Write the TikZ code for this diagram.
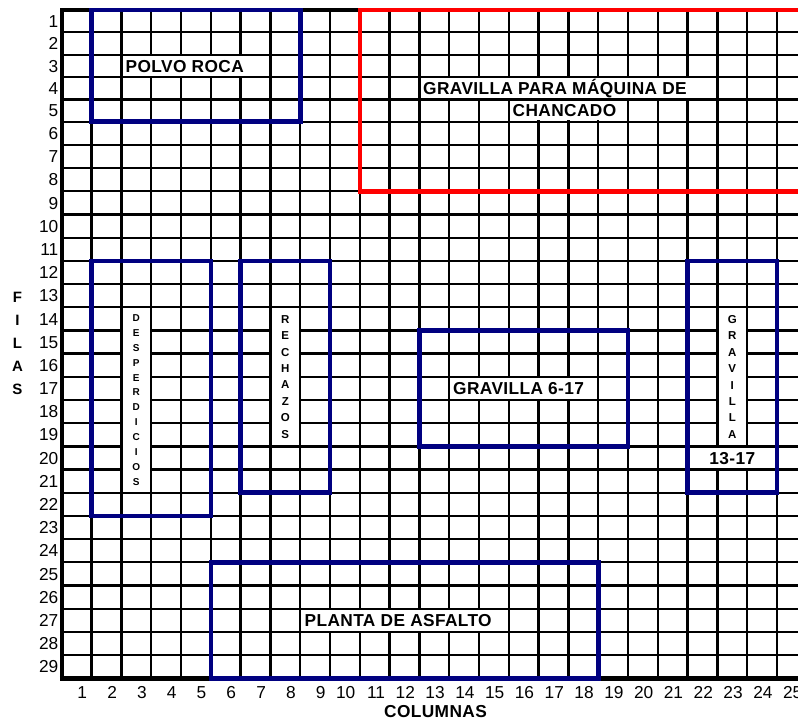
\documentclass[tikz,border=0pt]{standalone}
\usepackage{fontspec}
\setmainfont{Liberation Sans}
\newfontfamily\anchafont[LetterSpace=2.2]{Liberation Sans}
\usepackage{xcolor}
\definecolor{marino}{RGB}{0,0,128}

\begin{document}
\begin{tikzpicture}[x=1pt,y=-1pt,
  declare function={cx(\j)=61.8+29.8*\j; ry(\i)=10+22.34*min(\i,5)+23.19*max(\i-5,0);},
  rejilla/.style={line width=2.3pt},
  zona/.style={draw=marino,line width=4.6pt},
  num/.style={font=\fontsize{17.3}{20}\selectfont,inner sep=0pt,anchor=east,text height=12.4pt,text depth=0pt},
  rotulo/.style={font=\anchafont\fontsize{17.3}{20}\selectfont\bfseries,inner sep=0pt,text height=12.4pt,text depth=0pt},
  vertical/.style={font=\fontsize{11.5}{16.4}\selectfont\bfseries,inner sep=0pt,align=center}]
\useasboundingbox (0,0) rectangle (798,721);
\clip (0,0) rectangle (798,721);
\fill[white] (0,0) rectangle (798,721);
\foreach \j in {1,...,25} \draw[rejilla] ({cx(\j)},{ry(0)}) -- ({cx(\j)},{ry(29)});
\foreach \i in {1,...,28} \draw[rejilla] ({cx(0)},{ry(\i)}) -- ({cx(25)},{ry(\i)});
\foreach \a/\b/\c/\d in {2/7/2/3,12/22/3/4,15/19/4/5,13/18/16/17,8/15/26/27,21/24/19/20,2/3/13/21,7/8/13/19,22/23/13/19}
  \fill[white] ({cx(\a)+1.3},{ry(\c)+1.3}) rectangle ({cx(\b)-1.3},{ry(\d)-1.3});
\draw[line width=3.3pt] ({cx(0)},{ry(0)}) -- ({cx(25)},{ry(0)});
\draw[line width=4pt] ({cx(0)},{ry(0)-1.6}) -- ({cx(0)},{ry(29)});
\draw[line width=5pt] ({cx(0)-2},{ry(29)}) -- ({cx(25)},{ry(29)});
\draw[zona] ({cx(1)},{ry(0)}) rectangle ({cx(8)},{ry(5)});
\draw[zona] ({cx(1)},{ry(11)}) rectangle ({cx(5)},{ry(22)});
\draw[zona] ({cx(6)},{ry(11)}) rectangle ({cx(9)},{ry(21)});
\draw[zona] ({cx(12)},{ry(14)}) rectangle ({cx(19)},{ry(19)});
\draw[zona] ({cx(21)},{ry(11)}) rectangle ({cx(24)},{ry(21)});
\draw[zona] ({cx(5)},{ry(24)}) rectangle ({cx(18)},{ry(29)});
\draw[zona,draw=red] ({cx(10)},{ry(0)}) rectangle ({cx(25)+5},{ry(8)});
\foreach \i in {1,...,29} \node[num] (f\i) at (58.5,{ry(\i-0.5)}) {\i};
\foreach \j in {1,...,25} \node[num] (c\j) at ({cx(\j)-4.3},692) {\j};
\node[rotulo,anchor=west] (polvo) at (125.5,{ry(2.5)}) {POLVO ROCA};
\node[rotulo,anchor=west] (maquina) at (423,{ry(3.5)}) {GRAVILLA PARA MÁQUINA DE};
\node[rotulo,anchor=west] (chancado) at (512.5,{ry(4.5)}) {CHANCADO};
\node[rotulo,anchor=west] (grav617) at (453,{ry(16.5)}) {GRAVILLA 6-17};
\node[rotulo,anchor=west] (asfalto) at (304.5,{ry(26.5)}) {PLANTA DE ASFALTO};
\node[rotulo] (grav1317) at ({cx(22.5)},{ry(19.5)}) {13-17};
\node[vertical,font=\fontsize{10}{14.9}\selectfont\bfseries] (desp) at ({cx(2.5)},{ry(17)}) {D\\E\\S\\P\\E\\R\\D\\I\\C\\I\\O\\S};
\node[vertical] (rech) at ({cx(7.5)},{ry(16)}) {R\\E\\C\\H\\A\\Z\\O\\S};
\node[vertical] (grav) at ({cx(22.5)},{ry(16)}) {G\\R\\A\\V\\I\\L\\L\\A};
\node[vertical,font=\fontsize{15}{22.8}\selectfont\bfseries] (filas) at (17.5,343.5) {F\\I\\L\\A\\S};
\node[rotulo] (columnas) at (435.5,711.7) {COLUMNAS};
\end{tikzpicture}
\end{document}
